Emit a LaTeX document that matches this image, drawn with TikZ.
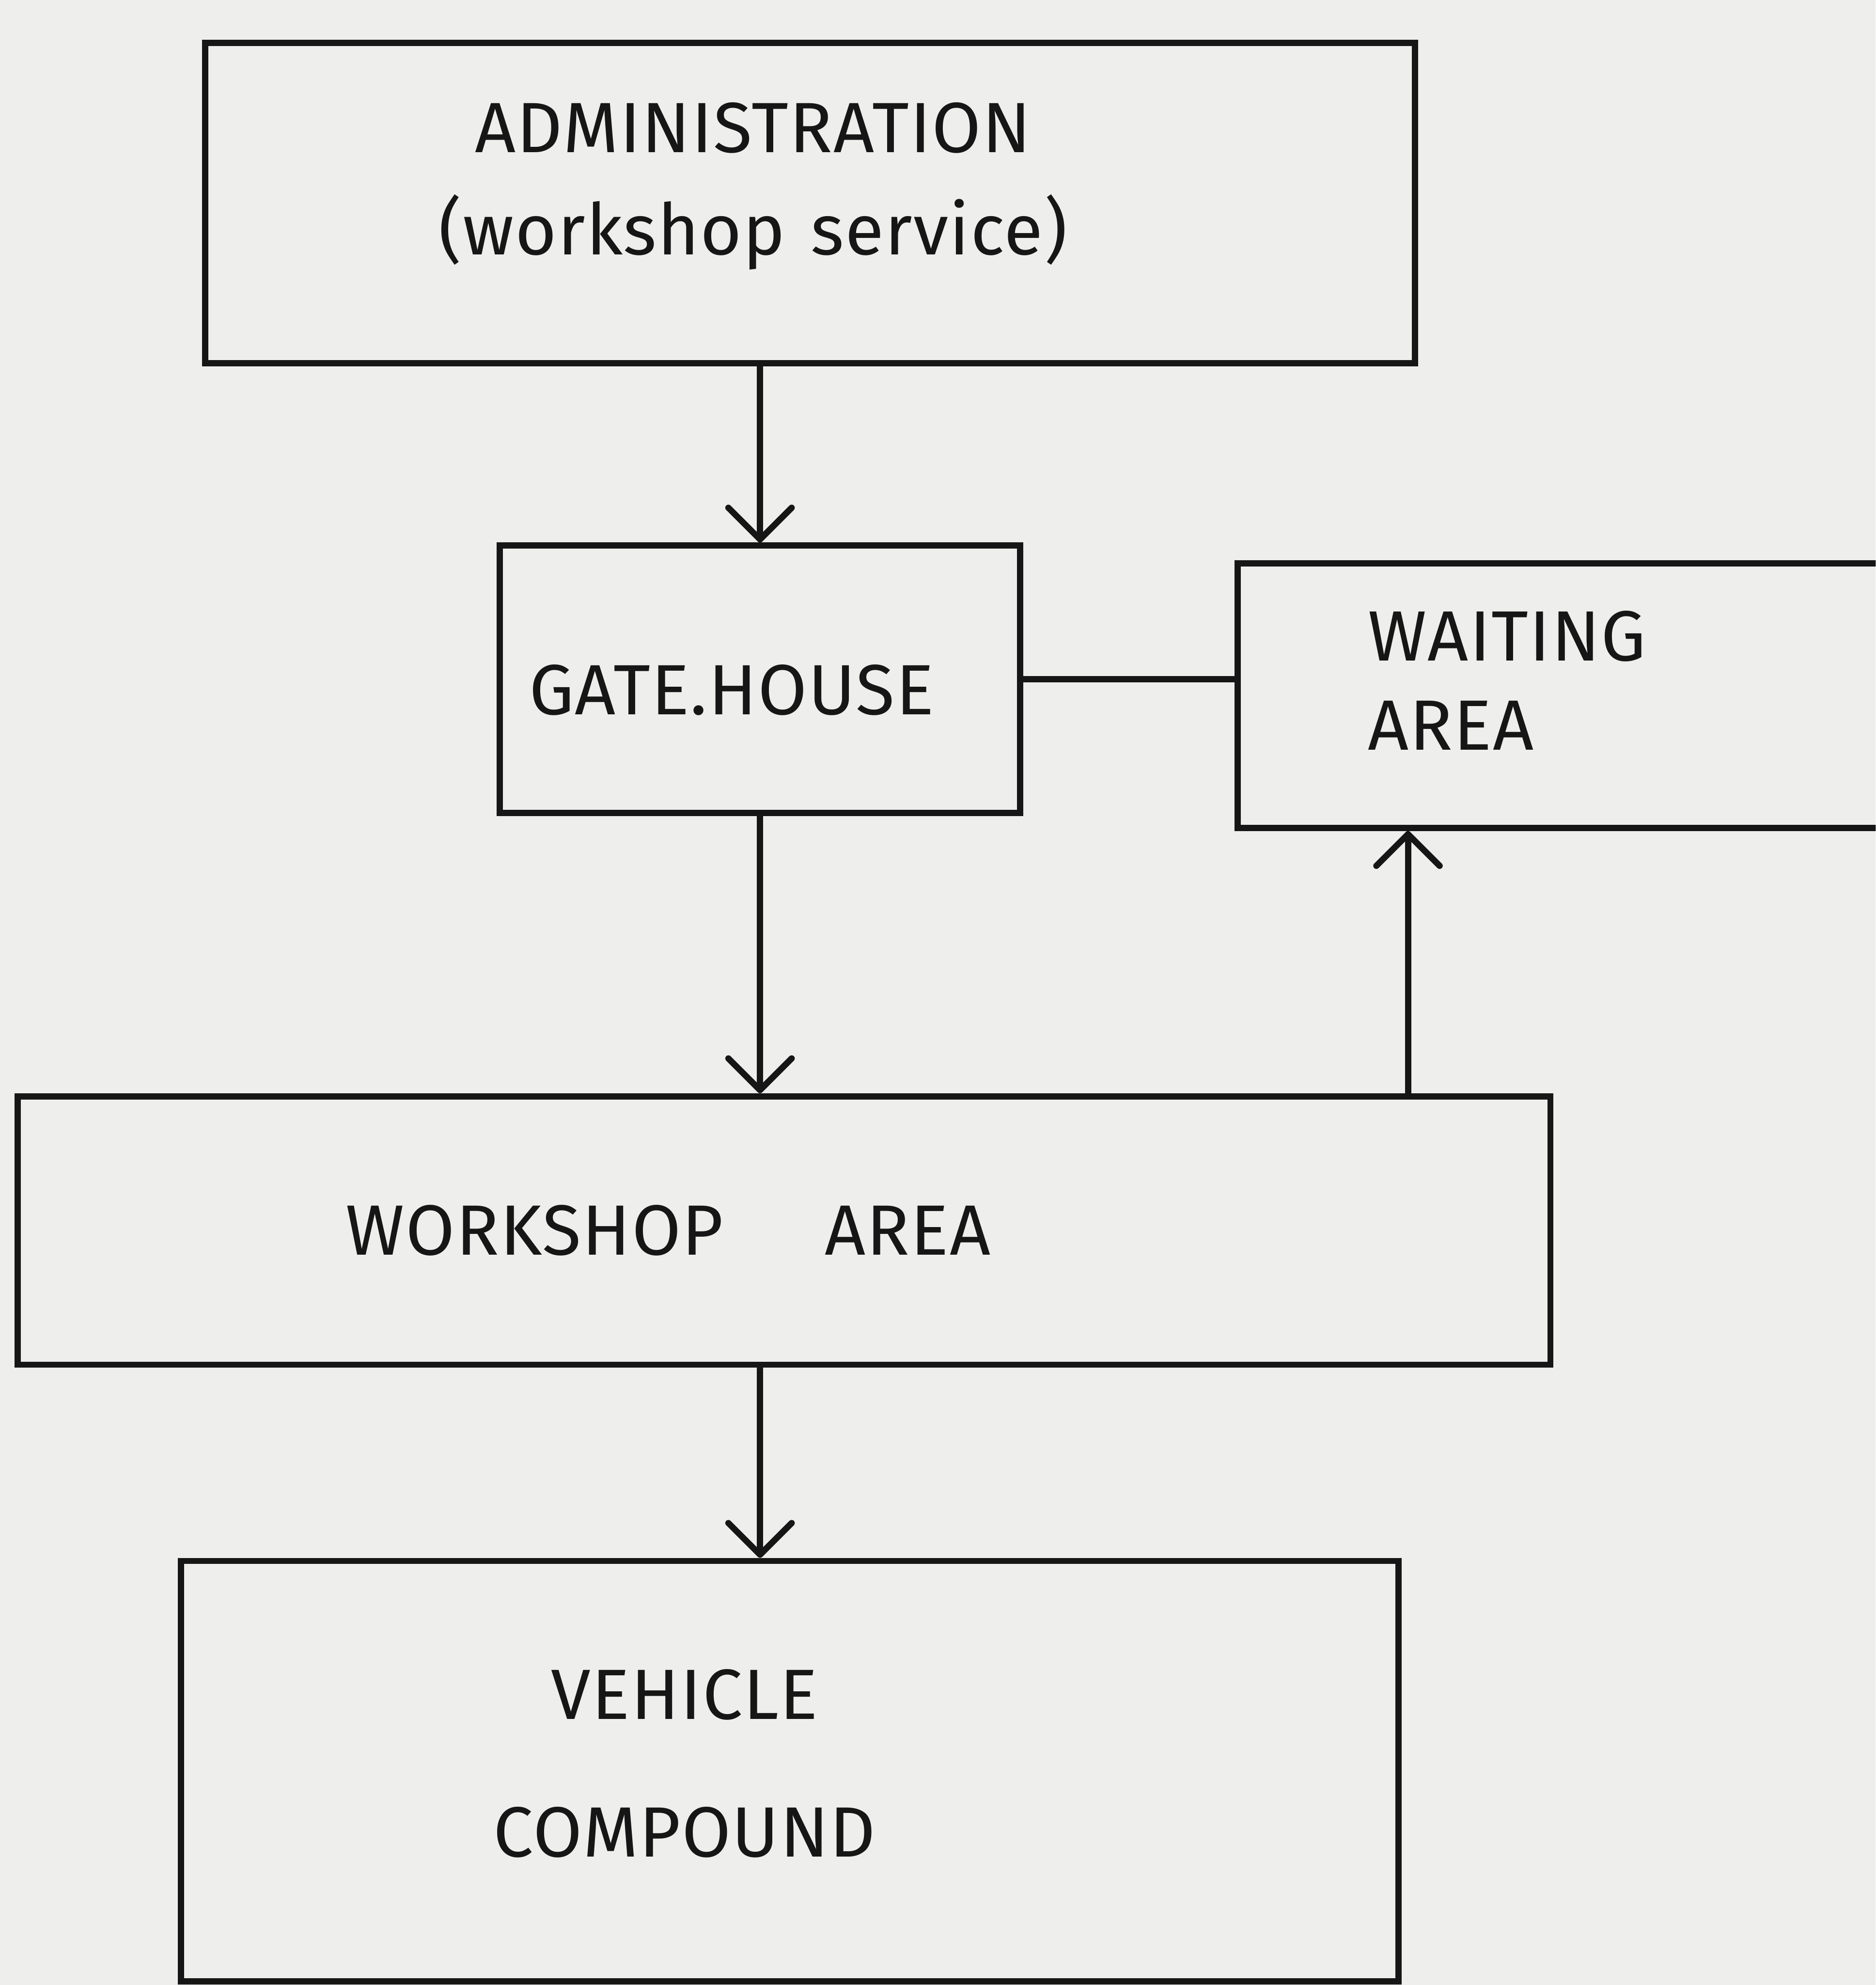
\documentclass[tikz,border=0pt]{standalone}
\usepackage{fontspec}
\setmainfont{Fira Sans}[LetterSpace=1.5]
\usepackage{tikz}
\usetikzlibrary{arrows.meta,positioning,calc}
\usepackage{xcolor}
\definecolor{paper}{RGB}{238,238,236}
\definecolor{ink}{RGB}{22,22,22}
\tikzset{
    room/.style={rectangle, draw=ink, line width=1.4pt, inner sep=0pt},
    flow/.style={line width=1.4pt, ink, -{Straight Barb[length=2.5mm, width=5mm, round]}},
    link/.style={line width=1.4pt, ink},
    roomlabel/.style={text=ink, font=\fontsize{16}{22}\selectfont, inner sep=0pt},
}

\begin{document}
\begin{tikzpicture}
    \useasboundingbox (0,0) rectangle (14.82,-15.68);
    \clip (0,0) rectangle (14.82,-15.68);
    \fill[paper] (0,0) rectangle (14.82,-15.68);

    % Rooms
    \node[room, minimum width=9.56cm, minimum height=2.53cm] (admin) at (6.40,-1.605) {};
    \node[room, minimum width=4.11cm, minimum height=2.11cm] (gate) at (6.005,-5.365) {};
    \node[room, minimum width=5.62cm, minimum height=2.09cm] (waiting) at (12.59,-5.495) {};
    \node[room, minimum width=12.11cm, minimum height=2.12cm] (workshop) at (6.195,-9.72) {};
    \node[room, minimum width=9.62cm, minimum height=3.32cm] (vehicle) at (6.24,-13.99) {};

    % Labels
    \node[roomlabel, align=center] (adminText) at (5.95,-1.47) {ADMINISTRATION\\[1pt](workshop\hspace{0.2cm}service)};
    \node[roomlabel] (gateText) at (5.78,-5.45) {GATE.HOUSE};
    \node[roomlabel, align=left, anchor=west] (waitingText) at (10.80,-5.375) {WAITING\\[-2pt]AREA};
    \node[roomlabel] (workshopText) at (5.28,-9.72) {WORKSHOP\hspace{0.8cm}AREA};
    \node[roomlabel, align=center] (vehicleText) at (5.41,-13.93) {VEHICLE\\[9pt]COMPOUND};

    % Connectors
    \draw[flow] (admin.south -| gate.north) -- (gate.north);
    \draw[flow] (gate.south) -- (gate.south |- workshop.north);
    \draw[link] (gate.east) -- (gate.east -| waiting.west);
    \coordinate (riser) at ([xshift=-1.15cm]workshop.north east);
    \draw[flow] (riser) -- (riser |- waiting.south);
    \draw[flow] (workshop.south -| gate.south) -- (vehicle.north -| gate.south);
\end{tikzpicture}
\end{document}
